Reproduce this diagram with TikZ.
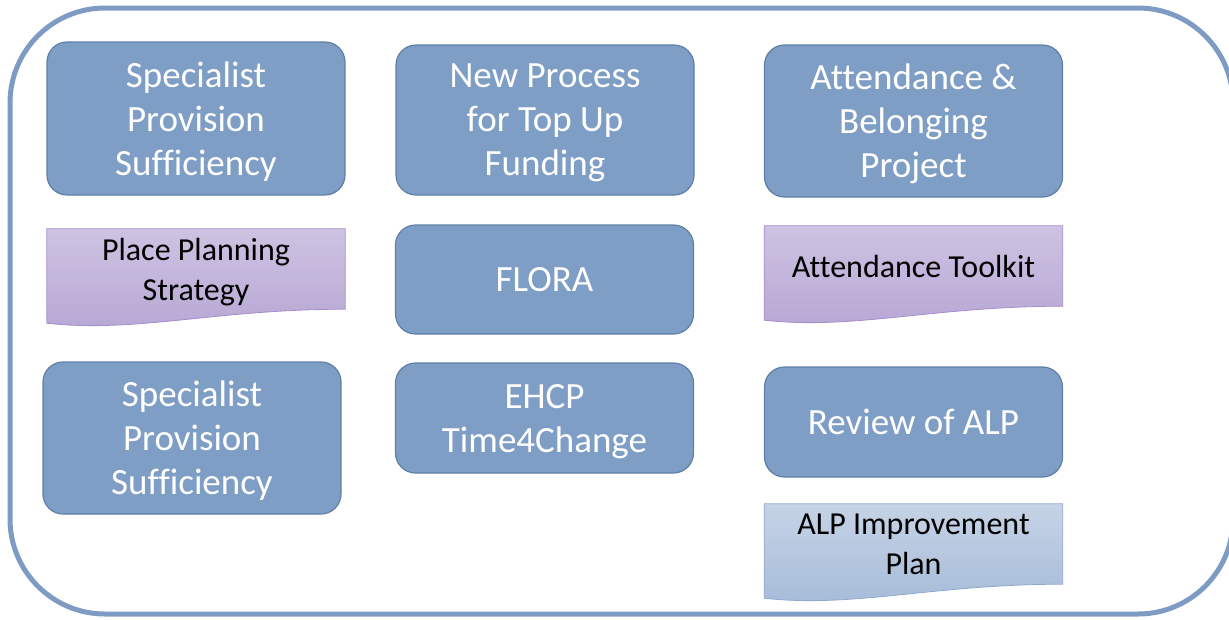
\documentclass[tikz,border=0pt]{standalone}
\usepackage{fontspec}
\setmainfont{Carlito}[RawFeature={-liga;-clig;-calt}]
\usetikzlibrary{calc}

\definecolor{boxblue}{HTML}{7F9EC5}
\definecolor{boxline}{HTML}{5F7FA7}
\definecolor{framecol}{HTML}{7E9CC3}
\definecolor{lilactop}{HTML}{CEC3E2}
\definecolor{lilacbot}{HTML}{B7A6D4}
\definecolor{lilacline}{HTML}{A58DCD}
\definecolor{paletop}{HTML}{C6D3E6}
\definecolor{palebot}{HTML}{A5BBD8}
\definecolor{paleline}{HTML}{8FA9CC}

\tikzset{
  bluebox/.style={draw=boxline, line width=1.2pt, fill=boxblue, rounded corners=20,
    text=white, align=center, text depth=0pt, minimum width=298,
    font=\fontsize{37}{44}\selectfont},
  docnode/.style={align=center, text depth=0pt, minimum width=298, minimum height=80,
    font=\fontsize{32}{40}\selectfont},
}

\newcommand{\docbox}[6]{%
  \node[docnode] (#1) at (#2) {#6};
  \draw[draw=#5, line width=0.8pt, top color=#3, bottom color=#4]
    (#1.north west) -- (#1.north east) -- (#1.south east)
    .. controls +(-130,0) and +(90,10) .. ($(#1.south west)+(0,14)$) -- cycle;
  \node[docnode] at (#1) {#6};
}

\begin{document}
\begin{tikzpicture}[x=1pt,y=-1pt]
\useasboundingbox (0,0) rectangle (1229,619);
\clip (0,0) rectangle (1229,619);

\draw[framecol, line width=5pt, rounded corners=95]
(10,8) rectangle (1233,614);

\node[bluebox, minimum height=153] (spsTop) at (196,118.5) {Specialist\\Provision\\Sufficiency};
\node[bluebox, minimum height=150] (topUp) at (545,120) {New Process\\for Top Up\\Funding};
\node[bluebox, minimum height=152] (belong) at (913.5,121) {Attendance \&\\Belonging\\Project};

\docbox{placePlan}{196,269}{lilactop}{lilacbot}{lilacline}{Place Planning\\Strategy}
\node[bluebox, minimum height=109] (flora) at (544.5,279.5) {FLORA};
\docbox{toolkit}{913.5,266}{lilactop}{lilacbot}{lilacline}{Attendance Toolkit}

\node[bluebox, minimum height=152] (spsBot) at (192,438) {Specialist\\Provision\\Sufficiency};
\node[bluebox, minimum height=110] (ehcp) at (544.5,418) {EHCP\\Time4Change};
\node[bluebox, minimum height=110] (alpReview) at (913.5,422) {Review of ALP};

\docbox{alpPlan}{913.5,544}{paletop}{palebot}{paleline}{ALP Improvement\\Plan}
\end{tikzpicture}
\end{document}
